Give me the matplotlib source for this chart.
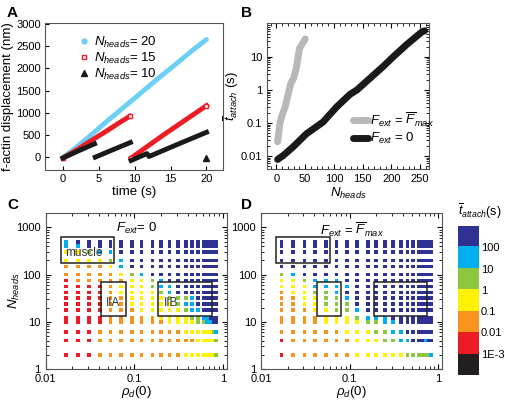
import matplotlib
matplotlib.use("Agg")
import matplotlib.pyplot as plt
import numpy as np
from matplotlib.colors import ListedColormap, BoundaryNorm
from matplotlib.patches import Rectangle

plt.rcParams['font.family'] = ['Liberation Sans', 'DejaVu Sans']
plt.rcParams['mathtext.fontset'] = 'custom'
plt.rcParams['mathtext.rm'] = 'Liberation Sans'
plt.rcParams['mathtext.it'] = 'Liberation Sans:italic'
plt.rcParams['font.size'] = 9

# ---- Panel A data: f-actin displacement (nm) vs time (s)
blue_t = [0, 1, 2, 4, 6, 8, 10, 12, 14, 16, 18, 20]
blue_d = [0, 110, 240, 510, 790, 1060, 1330, 1600, 1870, 2130, 2400, 2650]
red_t1 = [0, 2, 4, 6, 8, 9.3]
red_d1 = [-20, 170, 380, 580, 790, 920]
red_t2 = [9.5, 12, 14, 16, 18, 20]
red_d2 = [-20, 270, 500, 720, 940, 1160]
blk_t1 = [0, 2, 4.4]
blk_d1 = [-20, 130, 300]
blk_t2 = [4.5, 7, 9.4]
blk_d2 = [0, 170, 330]
blk_t3 = [9.5, 11.7, 12.0, 16, 20]
blk_d3 = [-75, 80, 15, 290, 560]
blk_tx = [20]
blk_dx = [-20]

# ---- Panel B data: mean attachment time vs N_heads
gray_n = [2, 6, 10, 15, 20, 25, 30, 35, 40, 45, 50]
gray_t = [0.027, 0.1, 0.18, 0.3, 0.7, 1.6, 2.3, 5, 18, 25, 35]
black_n = [2, 12, 29, 52, 81, 105, 128, 140, 186, 203, 227, 253, 258]
black_t = [0.0079, 0.0105, 0.019, 0.047, 0.107, 0.31, 0.74, 1.0, 5.2, 10, 24, 57, 62]

# ---- Panels C/D: phase diagrams (band of t_attach, k = <1E-3 ... n = >100)
rho_vals = [0.017, 0.023, 0.031, 0.041, 0.054, 0.071, 0.094, 0.12, 0.16, 0.20,
            0.25, 0.31, 0.38, 0.45, 0.52, 0.60, 0.66, 0.73, 0.78, 0.83]
n_vals = [500, 400, 300, 200, 150, 100, 75, 56, 42, 32, 24, 18, 12, 10, 6, 4, 2]
band_code = {'k': 0, 'r': 1, 'o': 2, 'y': 3, 'g': 4, 'c': 5, 'n': 6}
grid_C = [
    "cnnnnnnnnnnnnnnnnnnn",
    "ccnnnnnnnnnnnnnnnnnn",
    "yygccnnnnnnnnnnnnnnn",
    "yyyygcnnnnnnnnnnnnnn",
    "ooooycnnnnnnnnnnnnnn",
    "oooooygcnnnnnnnnnnnn",
    "roooooyygcnnnnnnnnnn",
    "rrrroyyygccnnnnnnnnn",
    "rrrroyyyygcnnnnnnnnn",
    "rrrrooyyyygggcnnnnnn",
    "rrrrooyyyyygccnnnnnn",
    "rrrroooyyyyygccnnnnn",
    "rrrroooooyyyyggccnnn",
    "rrrrooooooyyyyggccnn",
    "rrroooooooooyyyyyygc",
    "rrroooooooooooyyyyyg",
    "rrroooooooooyyyyyyyg",
]
grid_D = [
    "nnnnnnnnnnnnnnnnnnnn",
    "nnnnnnnnnnnnnnnnnnnn",
    "nnnnnnnnnnnnnnnnnnnn",
    "nnnnnnnnnnnnnnnnnnnn",
    "nnnnnnnnnnnnnnnnnnnn",
    "gcnnnnnnnnnnnnnnnnnn",
    "yygcccnnnnnnnnnnnnnn",
    "yyyccccnnnnnnnnnnnnn",
    "oyyggcnnnnnnnnnnnnnn",
    "ooyyggcnnnnnnnnnnnnn",
    "ooyygggnnnnnnnnnnnnn",
    "oooyyggcnnnnnnnnnnnn",
    "ooooyyygcccnnnnnnnnn",
    "ooooyyyyggccnnnnnnnn",
    "ooooooyyyggccnnnnnnn",
    "rooooooyyyggccnnncnn",
    "rooooooyyyyyyggggggc",
]
band_colors = ['#231f20', '#ed1c24', '#f7941d', '#fff200', '#8dc63f', '#00aeef', '#2e3192']
band_labels = ['1E-3', '0.01', '0.1', '1', '10', '100']

boxes = {'muscle': (0.0148, 0.0596, 175, 625),
         'IIA': (0.0425, 0.080, 13.2, 71),
         'IIB': (0.187, 0.75, 13.5, 70)}

fig = plt.figure(figsize=(5.05, 4.01), dpi=100)
axA = fig.add_axes([0.0891, 0.576, 0.3525, 0.3666])
axB = fig.add_axes([0.5293, 0.578, 0.3207, 0.3641])
axC = fig.add_axes([0.0905, 0.0798, 0.3584, 0.3883])
axD = fig.add_axes([0.5168, 0.0798, 0.3584, 0.3883])
axCB = fig.add_axes([0.907, 0.0648, 0.0415, 0.3716])

# Panel A
axA.plot(blue_t, blue_d, color='#6dcff6', lw=3.5, solid_capstyle='round')
axA.plot([], [], 'o', color='#6dcff6', ms=3.5, label='$N_{heads}$= 20')
for t, d in [(red_t1, red_d1), (red_t2, red_d2)]:
    axA.plot(t, d, color='#ed1c24', lw=3.5)
    axA.plot([t[0], t[-1]], [d[0], d[-1]], 's', mfc='white', mec='#ed1c24', ms=3.5, mew=1)
axA.plot([], [], 's', mfc='white', mec='#ed1c24', ms=3.5, mew=1, label='$N_{heads}$= 15')
for t, d in [(blk_t1, blk_d1), (blk_t2, blk_d2), (blk_t3, blk_d3)]:
    axA.plot(t, d, color='#1a1a1a', lw=3.5)
axA.plot(blk_tx, blk_dx, '^', color='#1a1a1a', ms=4)
axA.plot([], [], '^', color='#1a1a1a', ms=4, label='$N_{heads}$= 10')
axA.set_xlim(-2.5, 22.3)
axA.set_ylim(-290, 3020)
axA.set_xticks([0, 5, 10, 15, 20])
axA.set_yticks([0, 500, 1000, 1500, 2000, 2500, 3000])
axA.set_xlabel('time (s)', fontsize=9.5, labelpad=1)
axA.set_ylabel('f-actin displacement (nm)', fontsize=9.5)
axA.yaxis.set_label_coords(-0.175, 0.5)
axA.legend(loc='upper left', bbox_to_anchor=(0.12, 0.99), frameon=False, fontsize=9.5,
           handletextpad=0.3, labelspacing=0.05, handlelength=1.0, borderpad=0.3)

# Panel B
axB.semilogy(gray_n, gray_t, color='#b8b8b8', lw=5, solid_capstyle='round',
             label=r'$F_{ext}$ = $\overline{F}_{max}$')
axB.semilogy(black_n, black_t, color='#1a1a1a', lw=5, solid_capstyle='round',
             label='$F_{ext}$ = 0')
axB.set_xlim(-16, 266)
axB.set_ylim(0.004, 105)
axB.set_xticks([0, 50, 100, 150, 200, 250])
axB.set_yticks([0.01, 0.1, 1, 10])
axB.set_yticklabels(['0.01', '0.1', '1', '10'])
axB.set_xlabel('$N_{heads}$', fontsize=9.5, labelpad=1)
axB.set_ylabel(r'$\overline{t}_{attach}$ (s)', fontsize=9.5, labelpad=0)
axB.legend(loc='center left', bbox_to_anchor=(0.49, 0.28), frameon=False, fontsize=9.5,
           handlelength=1.1, handletextpad=0.2, labelspacing=0.2, borderpad=0)

cmap = ListedColormap(band_colors)
norm = BoundaryNorm(np.arange(-0.5, 7.5, 1), cmap.N)

for ax, grid, title in [(axC, grid_C, '$F_{ext}$= 0'),
                        (axD, grid_D, r'$F_{ext}$ = $\overline{F}_{max}$')]:
    xs, ys, cs = [], [], []
    for i, n in enumerate(n_vals):
        for j, rho in enumerate(rho_vals):
            xs.append(rho)
            ys.append(n)
            cs.append(band_code[grid[i][j]])
    ax.scatter(xs, ys, c=cs, cmap=cmap, norm=norm, marker='s', s=7, linewidths=0)
    ax.set_xscale('log')
    ax.set_yscale('log')
    ax.set_xlim(0.01, 1.1)
    ax.set_ylim(1, 2000)
    ax.set_xticks([0.01, 0.1, 1])
    ax.set_xticklabels(['0.01', '0.1', '1'])
    ax.set_yticks([1, 10, 100, 1000])
    ax.set_yticklabels(['1', '10', '100', '1000'])
    ax.set_xlabel(r'$\rho_d(0)$', fontsize=9.5, labelpad=0)
    for name, (x0, x1, y0, y1) in boxes.items():
        ax.add_patch(Rectangle((x0, y0), x1 - x0, y1 - y0, fill=False, ec='#222222', lw=1.1))
    ax.text(0.5, 0.95, title, transform=ax.transAxes, ha='center', va='top', fontsize=9.5)
axC.set_ylabel('$N_{heads}$', fontsize=9.5)
axC.yaxis.set_label_coords(-0.13, 0.5)
axC.text(0.0165, 290, 'muscle', fontsize=8.5, va='center', color='#333333')
axC.text(0.058, 25, 'IIA', fontsize=8.5, ha='center', va='center', color='#333333')
axC.text(0.26, 25, 'IIB', fontsize=8.5, ha='center', va='center', color='#333333')

for ax in [axB, axC, axD]:
    ax.tick_params(which='both', direction='in', top=True, right=True, labelsize=8)
    ax.tick_params(which='major', length=3.5)
    ax.tick_params(which='minor', length=2)
axB.minorticks_on()
axA.tick_params(direction='in', length=3, labelsize=8, pad=3)
for ax in [axA, axB, axC, axD]:
    for s in ax.spines.values():
        s.set_color('#555555')

# colorbar
axCB.imshow(np.arange(7)[::-1].reshape(-1, 1), cmap=cmap, norm=norm, aspect='auto',
            extent=[0, 1, -0.5, 6.5])
axCB.set_xticks([])
axCB.yaxis.tick_right()
axCB.set_yticks(np.arange(0.5, 6.5, 1))
axCB.set_yticklabels(band_labels)
axCB.tick_params(length=0, labelsize=8, pad=1.5)
for s in axCB.spines.values():
    s.set_visible(False)
fig.text(0.906, 0.448, r'$\overline{t}_{attach}$(s)', fontsize=9, ha='left', va='bottom')

for lbl, x, y in [('A', 0.014, 0.985), ('B', 0.478, 0.985), ('C', 0.014, 0.505), ('D', 0.478, 0.505)]:
    fig.text(x, y, lbl, fontsize=11, fontweight='bold', va='top')

fig.savefig('out.png', dpi=100)
